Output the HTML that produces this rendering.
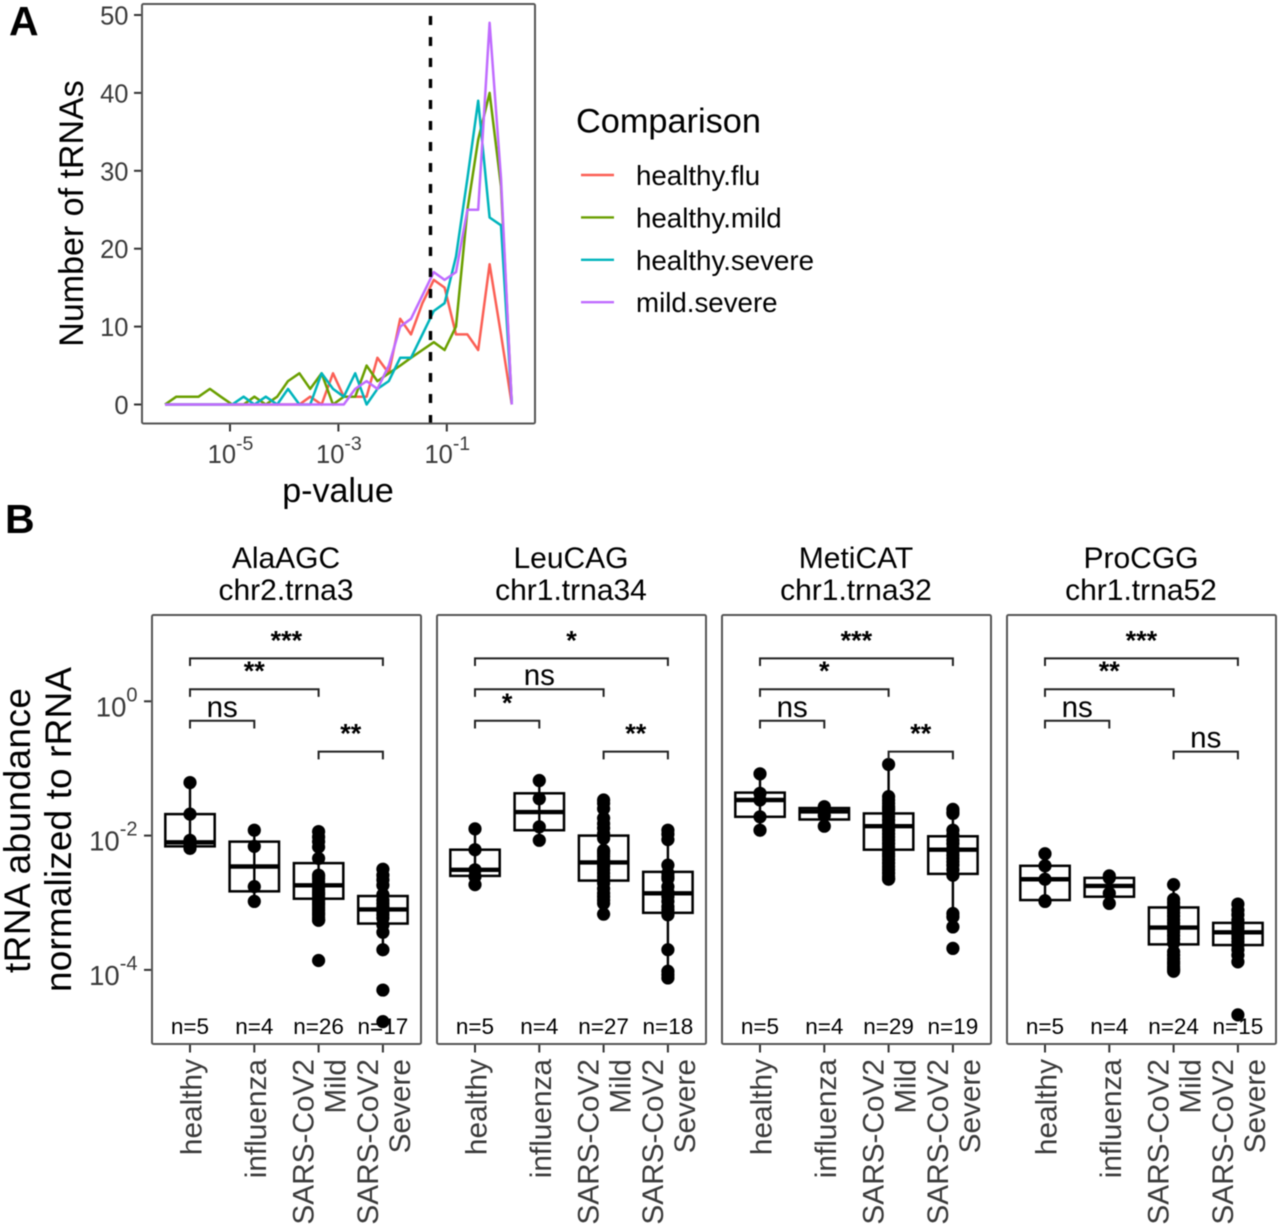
<!DOCTYPE html>
<html lang="en">
<head>
<meta charset="utf-8">
<title>tRNA abundance figure</title>
<style>
html,body{margin:0;padding:0;background:#fff;}
svg{display:block;filter:blur(0.6px);}
text{font-family:"Liberation Sans",sans-serif;}
</style>
</head>
<body>
<svg id="fig" xmlns="http://www.w3.org/2000/svg" width="1280" height="1229" viewBox="0 0 1280 1229">
  <rect x="0" y="0" width="1280" height="1229" fill="#fff"/>
  <text x="9" y="35" font-size="41" font-weight="bold" fill="#000">A</text>
  <text x="5" y="533" font-size="41" font-weight="bold" fill="#000">B</text>
  <text transform="translate(83,213.5) rotate(-90)" text-anchor="middle" font-size="34" fill="#000">Number of tRNAs</text>
  <text x="338" y="502" text-anchor="middle" font-size="34" fill="#000">p-value</text>
  <text x="576" y="132.5" font-size="34.3" fill="#000">Comparison</text>
  <text transform="translate(30,830.5) rotate(-90)" text-anchor="middle" font-size="37" textLength="285" fill="#000">tRNA abundance</text>
  <text transform="translate(71,829.5) rotate(-90)" text-anchor="middle" font-size="37" textLength="325" fill="#000">normalized to rRNA</text>
  <g id="panelA"></g>
  <g id="legend"></g>
  <g id="panelB"></g>
</svg>
<script>
/* ---------- Panel A data ---------- */
const pExponents = [-6.20,-5.99,-5.79,-5.58,-5.37,-5.17,-4.96,-4.75,-4.55,-4.34,-4.13,-3.93,-3.72,-3.52,-3.31,-3.10,-2.90,-2.69,-2.48,-2.28,-2.07,-1.86,-1.66,-1.45,-1.24,-1.04,-0.83,-0.62,-0.42,-0.21,0.00,0.20];
const healthyFlu    = [0,0,0,0,0,0,0,0,0,0,0,0,0,1,0,4,1,1,1,6,4,11,9,13,16,15,9,9,7,18,9,0];
const healthyMild   = [0,1,1,1,2,1,0,0,1,0,1,3,4,2,4,0,1,1,5,3,4,5,6,7,8,7,10,25,34,40,28,0];
const healthySevere = [0,0,0,0,0,0,0,1,0,1,0,2,0,0,4,2,1,4,0,2,3,6,6,9,12,13,19,29,39,24,23,0];
const mildSevere    = [0,0,0,0,0,0,0,0,0,0,0,0,0,0,0,0,0,2,3,2,5,10,11,14,17,16,17,25,25,49,29,0];
const seriesNames = ['healthy.flu','healthy.mild','healthy.severe','mild.severe'];
const countTicks = [0,10,20,30,40,50];
const pTicks = [-5,-3,-1];
const pCutoff = 0.05;

/* ---------- Panel B data (log10 abundance) ---------- */
const facetTitles = ['AlaAGC','LeuCAG','MetiCAT','ProCGG'];
const facetGenes = ['chr2.trna3','chr1.trna34','chr1.trna32','chr1.trna52'];
const logTicks = [0,-2,-4];
const nCounts = [[5,4,26,17],[5,4,27,18],[5,4,29,19],[5,4,24,15]];
/* order of significance labels: healthy-influenza, healthy-mild, healthy-severe, mild-severe */
const sigLabels = [['ns','**','***','**'],['*','ns','*','**'],['ns','*','***','**'],['ns','**','***','ns']];

const alaHealthy = [-1.21,-1.68,-2.07,-2.14,-2.19];
const alaInfluenza = [-1.92,-2.16,-2.76,-2.98];
const alaMild = [-1.94,-2.02,-2.09,-2.17,-2.34,-2.59,-2.61,-2.64,-2.69,-2.74,-2.77,-2.81,-2.85,-2.88,-2.92,-2.96,-3.00,-3.03,-3.07,-3.11,-3.15,-3.18,-3.22,-3.26,-3.26,-3.86];
const alaSevere = [-2.50,-2.59,-2.66,-2.74,-2.88,-2.96,-3.01,-3.06,-3.10,-3.13,-3.18,-3.23,-3.33,-3.44,-3.70,-4.30,-4.77];
const alaBoxes = [[-2.16,-2.10,-1.68],[-2.83,-2.46,-2.09],[-2.94,-2.74,-2.41],[-3.31,-3.10,-2.90]];

const leuHealthy = [-1.90,-2.21,-2.51,-2.61,-2.73];
const leuInfluenza = [-1.18,-1.45,-1.87,-2.07];
const leuMild = [-1.47,-1.52,-1.60,-1.74,-1.82,-1.89,-1.97,-2.04,-2.22,-2.24,-2.27,-2.31,-2.36,-2.41,-2.44,-2.46,-2.51,-2.56,-2.61,-2.66,-2.71,-2.79,-2.86,-2.91,-2.96,-3.01,-3.17];
const leuSevere = [-1.92,-1.98,-2.06,-2.44,-2.56,-2.61,-2.64,-2.76,-2.84,-2.91,-2.98,-3.06,-3.11,-3.18,-3.70,-4.02,-4.07,-4.12];
const leuBoxes = [[-2.60,-2.51,-2.21],[-1.92,-1.65,-1.37],[-2.67,-2.40,-2.00],[-3.15,-2.86,-2.54]];

const metHealthy = [-1.08,-1.37,-1.47,-1.72,-1.92];
const metInfluenza = [-1.57,-1.64,-1.70,-1.86];
const metMild = [-0.94,-1.42,-1.47,-1.52,-1.57,-1.60,-1.62,-1.67,-1.72,-1.77,-1.82,-1.87,-1.92,-1.97,-2.02,-2.07,-2.12,-2.17,-2.22,-2.27,-2.31,-2.36,-2.41,-2.46,-2.51,-2.56,-2.61,-2.64,-2.65];
const metSevere = [-1.61,-1.65,-1.67,-1.92,-1.99,-2.07,-2.12,-2.19,-2.24,-2.29,-2.34,-2.39,-2.44,-2.51,-2.59,-3.16,-3.21,-3.36,-3.68];
const metBoxes = [[-1.72,-1.47,-1.36],[-1.76,-1.64,-1.59],[-2.21,-1.86,-1.67],[-2.57,-2.21,-2.01]];

const proHealthy = [-2.27,-2.45,-2.65,-2.97,-2.98];
const proInfluenza = [-2.60,-2.63,-2.86,-3.01];
const proMild = [-2.73,-2.95,-3.00,-3.05,-3.10,-3.15,-3.20,-3.25,-3.30,-3.35,-3.40,-3.44,-3.49,-3.54,-3.60,-3.73,-3.78,-3.83,-3.88,-3.91,-3.95,-3.98,-4.00,-4.02];
const proSevere = [-3.02,-3.11,-3.18,-3.26,-3.33,-3.38,-3.43,-3.48,-3.53,-3.58,-3.63,-3.70,-3.78,-3.88,-4.67];
const proBoxes = [[-2.96,-2.65,-2.45],[-2.91,-2.75,-2.63],[-3.62,-3.37,-3.07],[-3.63,-3.44,-3.30]];

const facetPoints = [
  [alaHealthy,alaInfluenza,alaMild,alaSevere],
  [leuHealthy,leuInfluenza,leuMild,leuSevere],
  [metHealthy,metInfluenza,metMild,metSevere],
  [proHealthy,proInfluenza,proMild,proSevere]
];
const facetBoxes = [alaBoxes,leuBoxes,metBoxes,proBoxes];

/* ---------- helpers ---------- */
const NS = 'http://www.w3.org/2000/svg';
function mk(parent, tag, attrs, txt){
  const e = document.createElementNS(NS, tag);
  for (const k in attrs) e.setAttribute(k, attrs[k]);
  if (txt !== undefined) e.textContent = txt;
  parent.appendChild(e);
  return e;
}
const tickText = '#3a3a3a';

/* ---------- Panel A ---------- */
const aFrame = {l:142, r:535, t:4, b:423.5};
const xA = e => 230 + (e + 5) * 54.2;
const yA = v => 404.5 - 7.79 * v;
const gA = document.getElementById('panelA');
const seriesColors = ['#fb5f55','#6a9f00','#00b4bc','#c06cff'];
const seriesData = [healthyFlu, healthyMild, healthySevere, mildSevere];

countTicks.forEach(v => {
  const tick = mk(gA,'line',{x1:134,x2:aFrame.l,y1:yA(v),y2:yA(v),stroke:'#333','stroke-width':2});
  
  
  const lab = mk(gA,'text',{x:128.5,y:yA(v)+9.5,'text-anchor':'end','font-size':25.5,fill:tickText},String(v));
  
  
});
pTicks.forEach(e => {
  const tick = mk(gA,'line',{x1:xA(e),x2:xA(e),y1:aFrame.b,y2:431.5,stroke:'#333','stroke-width':2});
  
  
  const lab = mk(gA,'text',{x:xA(e)+0.5,y:463,'text-anchor':'middle','font-size':25.5,fill:tickText});
  
  
  mk(lab,'tspan',{},'10');
  mk(lab,'tspan',{dy:-13,'font-size':19.5},String(e));
});
seriesData.forEach((vals,s) => {
  const pts = vals.map((v,i) => xA(pExponents[i]).toFixed(1)+','+yA(v).toFixed(1)).join(' ');
  const line = mk(gA,'polyline',{points:pts,fill:'none',stroke:seriesColors[s],'stroke-width':2.5,'stroke-linejoin':'round'});
  
  
});
const cutX = xA(Math.log10(pCutoff));
const cut = mk(gA,'line',{x1:cutX,x2:cutX,y1:424,y2:15,stroke:'#000','stroke-width':3.4,'stroke-dasharray':'9 12'});


const aBorder = mk(gA,'rect',{x:aFrame.l,y:aFrame.t,width:aFrame.r-aFrame.l,height:aFrame.b-aFrame.t,rx:1.5,fill:'none',stroke:'#555','stroke-width':2});



/* ---------- Legend ---------- */
const gL = document.getElementById('legend');
seriesNames.forEach((n,i) => {
  const cy = 175 + 42.4 * i;
  const key = mk(gL,'line',{x1:581,x2:614,y1:cy,y2:cy,stroke:seriesColors[i],'stroke-width':2.4});
  
  
  const lab = mk(gL,'text',{x:636,y:cy+10,'font-size':27.7,fill:'#000'},n);
  
  
});

/* ---------- Panel B ---------- */
const gB = document.getElementById('panelB');
const facetStep = 285;
const bFrame = {l:152, r:421, t:615, b:1044};
const yB = lg => 701.3 - 67.15 * lg;
const xCat = (f,c) => 190 + 64.3 * c + facetStep * f;
const bracketLevels = [-0.29, 0.18, 0.64, -0.75];
const bracketEnds = [[0,1],[0,2],[0,3],[2,3]];
const catLabels = [['healthy'],['influenza'],['SARS-CoV2','Mild'],['SARS-CoV2','Severe']];

function whiskers(pts,box){
  const iqr = box[2]-box[0];
  const hiLim = box[2]+1.5*iqr, loLim = box[0]-1.5*iqr;
  const inside = pts.filter(v => v<=hiLim && v>=loLim);
  return [Math.min(box[0],...inside), Math.max(box[2],...inside)];
}

logTicks.forEach(lg => {
  const tick = mk(gB,'line',{x1:144,x2:bFrame.l,y1:yB(lg),y2:yB(lg),stroke:'#333','stroke-width':2});
  
  
  const lab = mk(gB,'text',{x:137.5,y:yB(lg)+15,'text-anchor':'end','font-size':27.5,fill:tickText});
  
  
  mk(lab,'tspan',{},'10');
  mk(lab,'tspan',{dy:-15,'font-size':20},String(lg));
});

facetTitles.forEach((title,f) => {
  const off = facetStep * f;
  const g = mk(gB,'g',{});
  
  
  const cx = (bFrame.l+bFrame.r)/2 + off - 0.5;
  const t1 = mk(g,'text',{x:cx,y:568,'text-anchor':'middle','font-size':30,fill:'#000'},title);
  
  
  const t2 = mk(g,'text',{x:cx,y:600,'text-anchor':'middle','font-size':30,fill:'#000'},facetGenes[f]);
  
  

  facetPoints[f].forEach((pts,c) => {
    const x = xCat(f,c);
    const box = facetBoxes[f][c];
    const w = whiskers(pts,box);
    const wh = mk(g,'line',{x1:x,x2:x,y1:yB(w[1]),y2:yB(w[0]),stroke:'#000','stroke-width':2.4});
    
    
    const rect = mk(g,'rect',{x:x-24.7,y:yB(box[2]),width:49.4,height:yB(box[0])-yB(box[2]),fill:'none',stroke:'#000','stroke-width':2.5});
    
    
    const med = mk(g,'line',{x1:x-24.7,x2:x+24.7,y1:yB(box[1]),y2:yB(box[1]),stroke:'#000','stroke-width':4.4});
    
    
    pts.forEach(v => {
      const dot = mk(g,'circle',{cx:x,cy:yB(v),r:6.6,fill:'#000'});
      
      
    });
    const nLab = mk(g,'text',{x:x,y:1034,'text-anchor':'middle','font-size':22.5,fill:'#000'},'n='+nCounts[f][c]);
    
    
    const tick = mk(g,'line',{x1:x,x2:x,y1:bFrame.b,y2:1052.5,stroke:'#333','stroke-width':2});
    
    
    const lines = catLabels[c];
    lines.forEach((txt,k) => {
      let bx = x + 11.5;
      if (lines.length === 2) bx = x + (k === 0 ? -5 : 27);
      const lab = mk(g,'text',{transform:'translate('+bx+',1059) rotate(-90)','text-anchor':'end','font-size':29.8,fill:tickText},txt);
      
      
    });
  });

  bracketEnds.forEach((ends,b) => {
    const x1 = xCat(f,ends[0]), x2 = xCat(f,ends[1]), y = yB(bracketLevels[b]);
    const path = mk(g,'path',{d:'M'+x1+' '+(y+7.7)+'V'+y+'H'+x2+'V'+(y+7.7),fill:'none',stroke:'#222','stroke-width':2});
    
    
    const s = sigLabels[f][b];
    const isNs = s === 'ns';
    const lab = mk(g,'text',{x:(x1+x2)/2,y:isNs ? y-4 : y-9,'text-anchor':'middle','font-size':isNs?29.5:27,'font-weight':isNs?'normal':'bold',fill:'#000'},s);
    
    
  });

  const frame = mk(g,'rect',{x:bFrame.l+off,y:bFrame.t,width:bFrame.r-bFrame.l,height:bFrame.b-bFrame.t,rx:1.5,fill:'none',stroke:'#555','stroke-width':2});
  
  
});
</script>
</body>
</html>
